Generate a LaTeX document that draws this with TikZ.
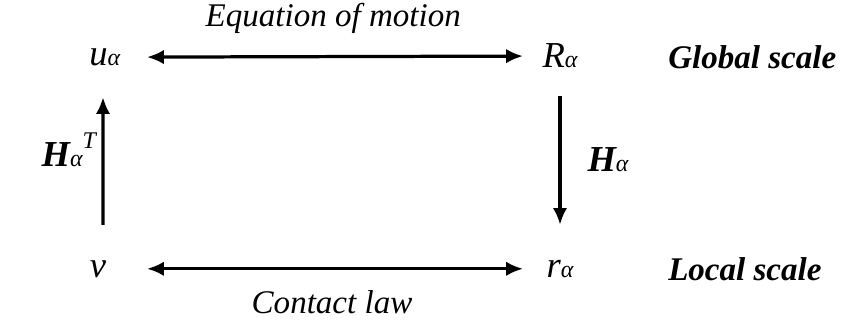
\documentclass[tikz,border=0pt]{standalone}
\usepackage{fontspec}
\setmainfont{Liberation Serif}
\usepackage{tikz}
\usetikzlibrary{positioning,arrows.meta,calc}
\newcommand{\grk}[1]{{\fontsize{17}{19}\selectfont\itshape #1}}

\begin{document}
\begin{tikzpicture}[
  font=\fontsize{23.5}{28}\selectfont\itshape,
  var/.style={inner sep=0pt, font=\fontsize{26}{30}\selectfont\itshape},
  lbl/.style={inner sep=0pt},
  lvl/.style={inner sep=0pt, anchor=west, font=\fontsize{23.5}{28}\selectfont\bfseries\itshape},
  arr/.style={-{Latex[length=4.2mm,width=3.6mm]}, line width=2.3pt},
  darr/.style={{Latex[length=4.2mm,width=3.6mm]}-{Latex[length=4.2mm,width=3.6mm]}, line width=2.3pt},
  ]
  \useasboundingbox (0,0) rectangle (21.05,8.05);
  % corners: global row on top, local row below
  \node[var] (u) at (2.62,6.62) {u\grk{α}};
  \node[var] (R) at (14.0,6.65) {R\grk{α}};
  \node[var] (v) at (2.45,1.33) {v};
  \node[var] (r) at (14.0,1.33) {r\grk{α}};
  % scale labels
  \node[lvl] (gs) at (16.7,6.62) {Global scale};
  \node[lvl] (ls) at (16.7,1.33) {Local scale};
  % horizontal links
  \draw[darr, shorten <=1.055cm, shorten >=0.925cm] (u.center) -- (R.center);
  \draw[darr, shorten <=1.225cm, shorten >=0.925cm] (v.center) -- (r.center);
  \node[lbl] (eom) at (8.33,7.6) {Equation of motion};
  \node[lbl] (cl) at (8.3,0.5) {Contact law};
  % vertical links
  \draw[arr, shorten <=1.1cm, shorten >=1.0cm] ([xshift=1.25mm]v.center) -- ([xshift=-0.45mm]u.center);
  \draw[arr, shorten <=1.0cm, shorten >=1.1cm] (R.center) -- (r.center);
  \node[var] (HT) at (1.72,4.3) {\textbf{H}\grk{α}\raisebox{1.1ex}{\grk{T}}};
  \node[var] (H) at (15.2,4.05) {\textbf{H}\grk{α}};
\end{tikzpicture}
\end{document}
